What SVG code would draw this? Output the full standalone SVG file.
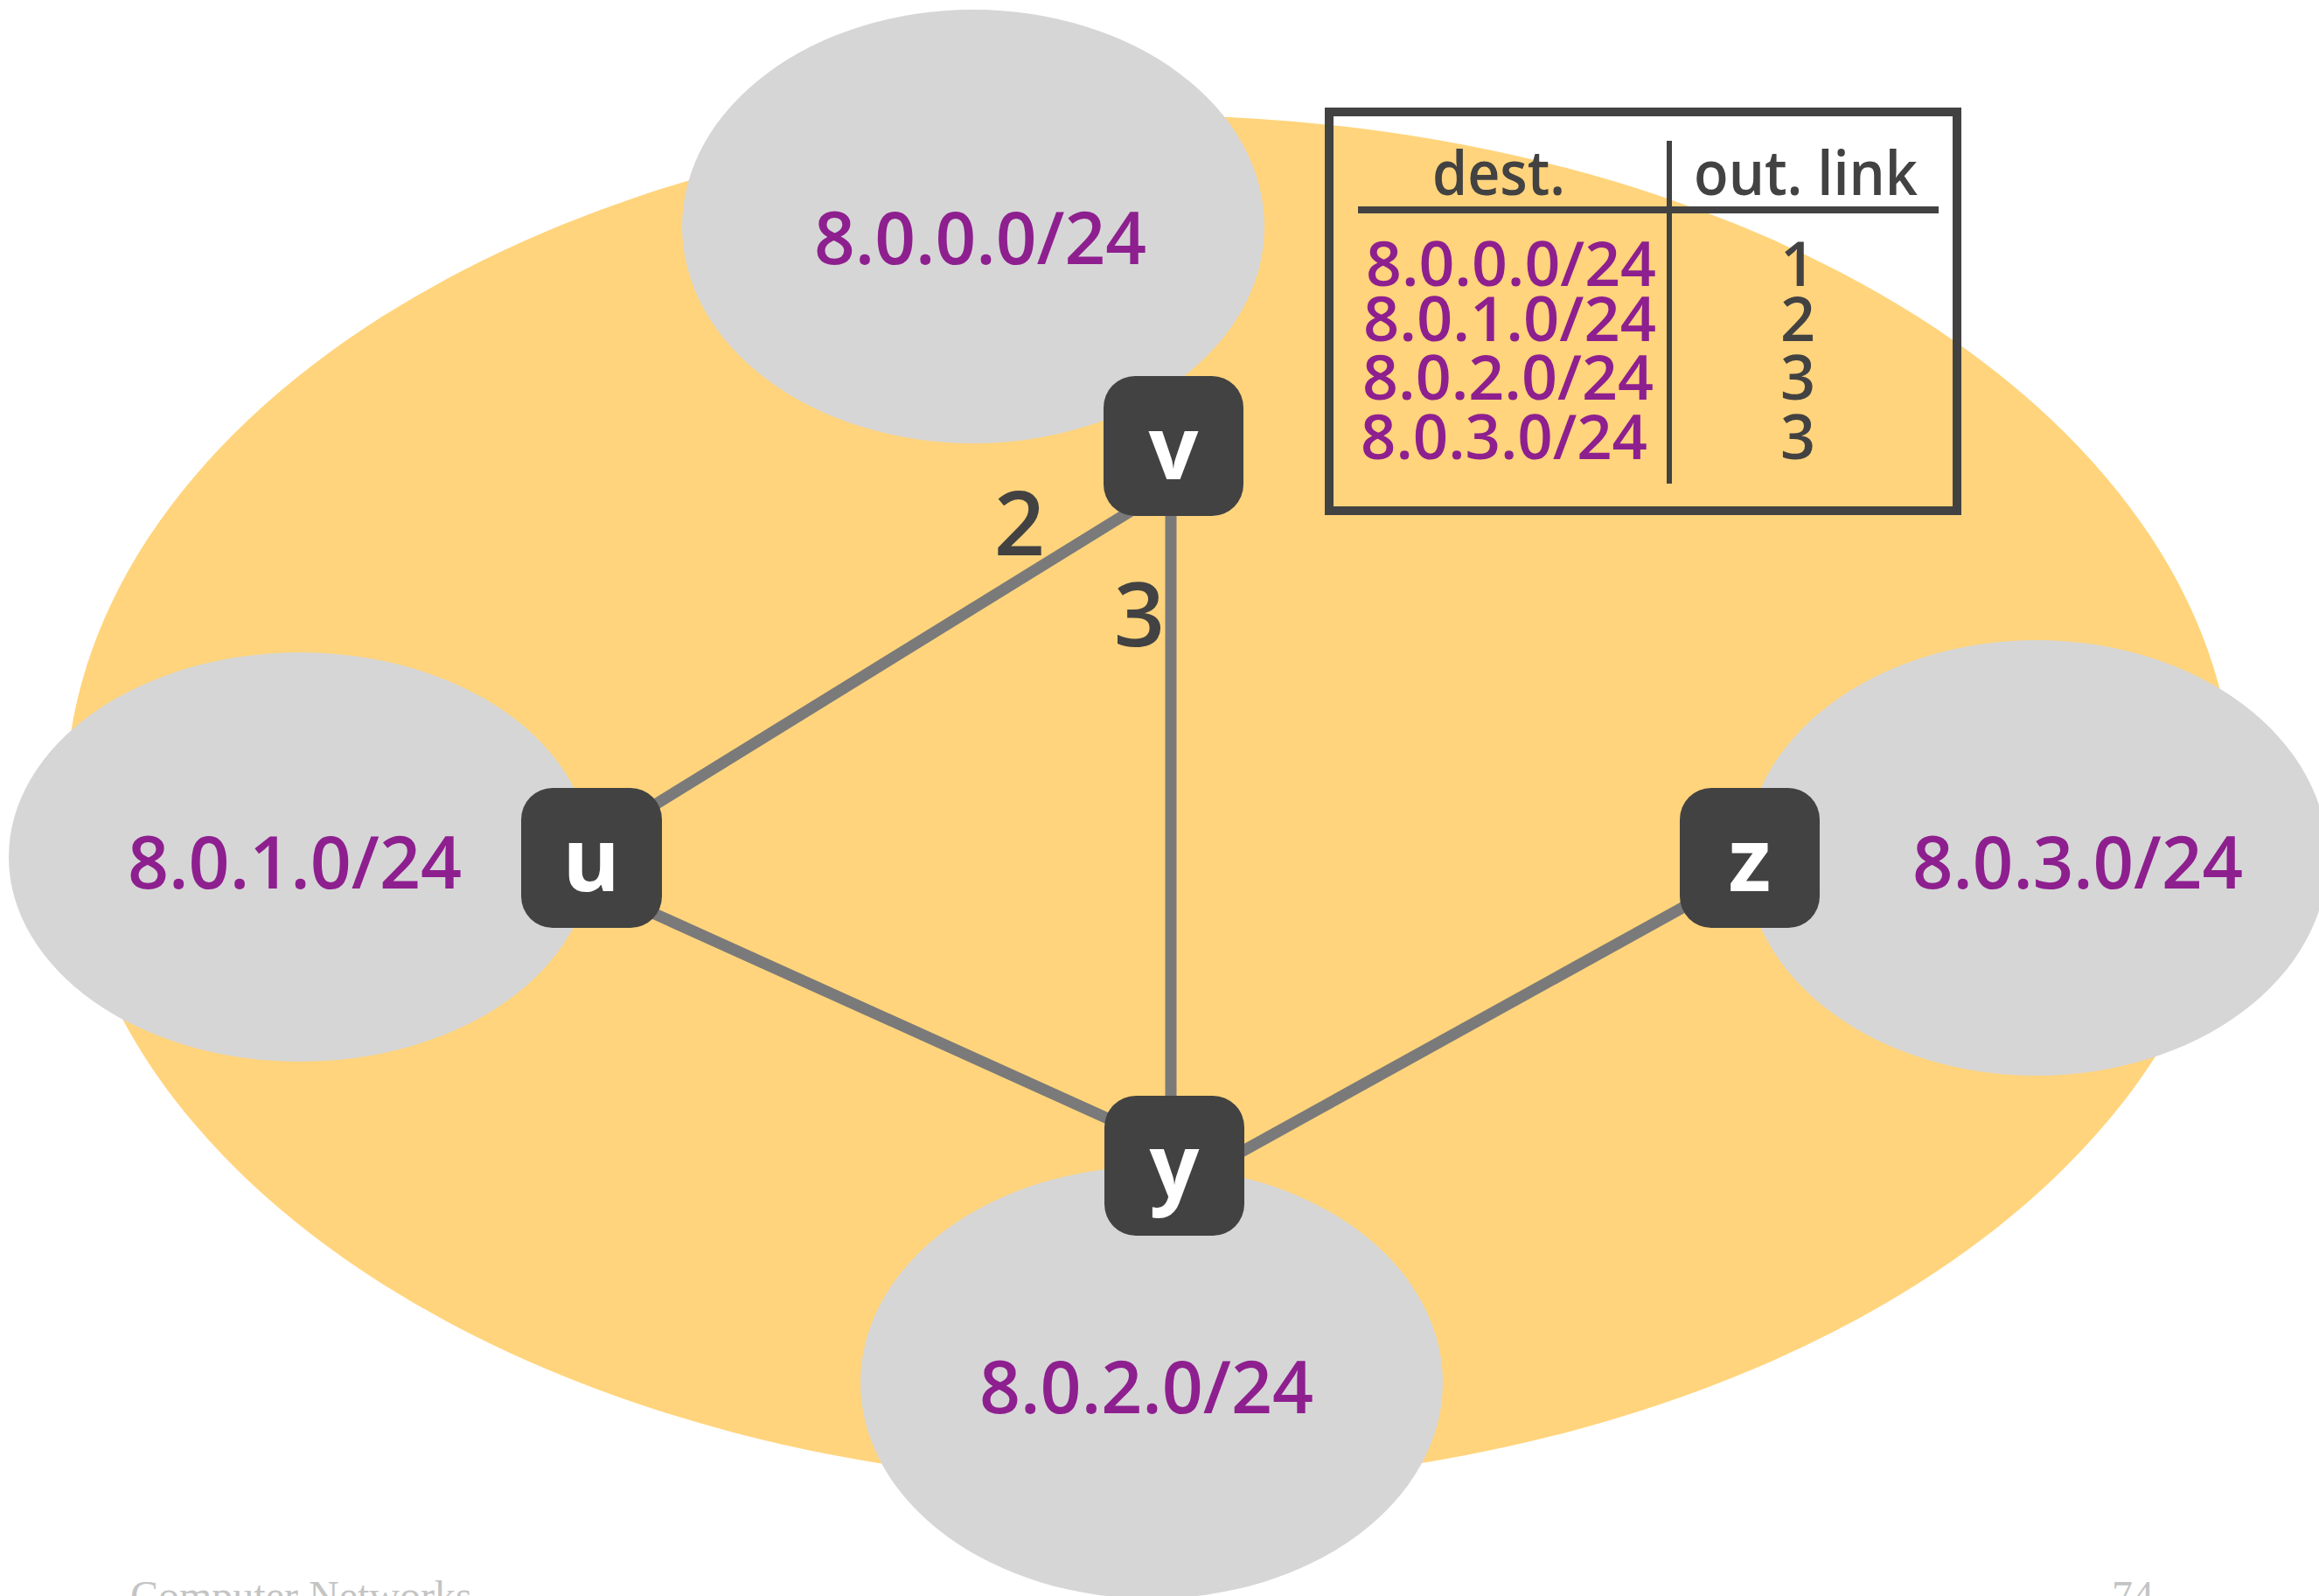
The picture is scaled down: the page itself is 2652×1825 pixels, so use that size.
<svg xmlns="http://www.w3.org/2000/svg" width="2652" height="1825" viewBox="0 0 2652 1825">
<style>
.bg{fill:#ffffff}
.region{fill:#FFD47C}
.subnet{fill:#D6D6D6}
.net{font-family:"Open Sans","DejaVu Sans",sans-serif;font-weight:600;fill:#8E1F8F;font-size:83px}
.edge{stroke:#7A7A7A;stroke-width:13;fill:none}
.node rect{fill:#424242}
.node text{font-family:"Open Sans","DejaVu Sans",sans-serif;font-weight:700;font-size:100px;fill:#ffffff;text-anchor:middle}
.cost{font-family:"Open Sans","DejaVu Sans",sans-serif;font-weight:600;font-size:102px;fill:#424242;text-anchor:middle}
.tbl{font-family:"Open Sans","DejaVu Sans",sans-serif;font-weight:600;font-size:70px}
.hdr{fill:#424242}
.row{fill:#8E1F8F}
.lnk{fill:#424242;text-anchor:middle}
.rule{stroke:#424242;fill:none}
.foot{font-family:"Liberation Serif",serif;font-size:48px;fill:#C4C4C4}
</style>
<rect class="bg" x="0" y="0" width="2652" height="1825"/>
<ellipse class="region" cx="1315" cy="915" rx="1240" ry="783"/>

<g id="subnet-8.0.0.0">
<ellipse class="subnet" cx="1113" cy="259" rx="333" ry="248"/>
<text class="net" x="931" y="302" textLength="380" lengthAdjust="spacingAndGlyphs">8.0.0.0/24</text>
</g>
<g id="subnet-8.0.1.0">
<ellipse class="subnet" cx="343" cy="980" rx="333" ry="234"/>
<text class="net" x="146" y="1016" textLength="382" lengthAdjust="spacingAndGlyphs">8.0.1.0/24</text>
</g>
<g id="subnet-8.0.3.0">
<ellipse class="subnet" cx="2329" cy="981" rx="333" ry="249"/>
<text class="net" x="2187" y="1016" textLength="378" lengthAdjust="spacingAndGlyphs">8.0.3.0/24</text>
</g>
<g id="subnet-8.0.2.0">
<ellipse class="subnet" cx="1317" cy="1581" rx="333" ry="247"/>
<text class="net" x="1120" y="1616" textLength="382" lengthAdjust="spacingAndGlyphs">8.0.2.0/24</text>
</g>

<g id="forwarding-table">
<rect class="rule" x="1520" y="128" width="718" height="456" stroke-width="10"/>
<line class="rule" x1="1553" y1="240" x2="2217" y2="240" stroke-width="8"/>
<line class="rule" x1="1909" y1="161" x2="1909" y2="553" stroke-width="6"/>
<text class="tbl hdr" x="1638" y="223" textLength="152" lengthAdjust="spacingAndGlyphs">dest.</text>
<text class="tbl hdr" x="1937" y="223" textLength="256" lengthAdjust="spacingAndGlyphs">out. link</text>
<text class="tbl row" x="1562" y="327" textLength="332" lengthAdjust="spacingAndGlyphs">8.0.0.0/24</text>
<text class="tbl row" x="1559" y="390" textLength="335" lengthAdjust="spacingAndGlyphs">8.0.1.0/24</text>
<text class="tbl row" x="1558" y="457" textLength="333" lengthAdjust="spacingAndGlyphs">8.0.2.0/24</text>
<text class="tbl row" x="1556" y="525" textLength="328" lengthAdjust="spacingAndGlyphs">8.0.3.0/24</text>
<text class="tbl lnk" x="2056" y="327">1</text>
<text class="tbl lnk" x="2056" y="390">2</text>
<text class="tbl lnk" x="2056" y="457">3</text>
<text class="tbl lnk" x="2056" y="525">3</text>
</g>

<g id="connectors">
<line class="edge" x1="720" y1="938" x2="1310" y2="574"/>
<line class="edge" x1="1339" y1="560" x2="1339" y2="1290"/>
<line class="edge" x1="700" y1="1023" x2="1300" y2="1294"/>
<line class="edge" x1="1380" y1="1339" x2="1960" y2="1018"/>
<text class="cost" x="1166" y="635">2</text>
<text class="cost" x="1303" y="739">3</text>
</g>

<g id="node-v" class="node">
<rect x="1262" y="430" width="160" height="160" rx="36"/>
<text x="1342" y="548">v</text>
</g>
<g id="node-u" class="node">
<rect x="596" y="901" width="161" height="160" rx="36"/>
<text x="676" y="1019">u</text>
</g>
<g id="node-y" class="node">
<rect x="1263" y="1253" width="160" height="160" rx="36"/>
<text x="1343" y="1369">y</text>
</g>
<g id="node-z" class="node">
<rect x="1921" y="901" width="160" height="160" rx="36"/>
<text x="2001" y="1019">z</text>
</g>

<text class="foot" x="149" y="1841">Computer Networks</text>
<text class="foot" x="2415" y="1841">74</text>
</svg>
